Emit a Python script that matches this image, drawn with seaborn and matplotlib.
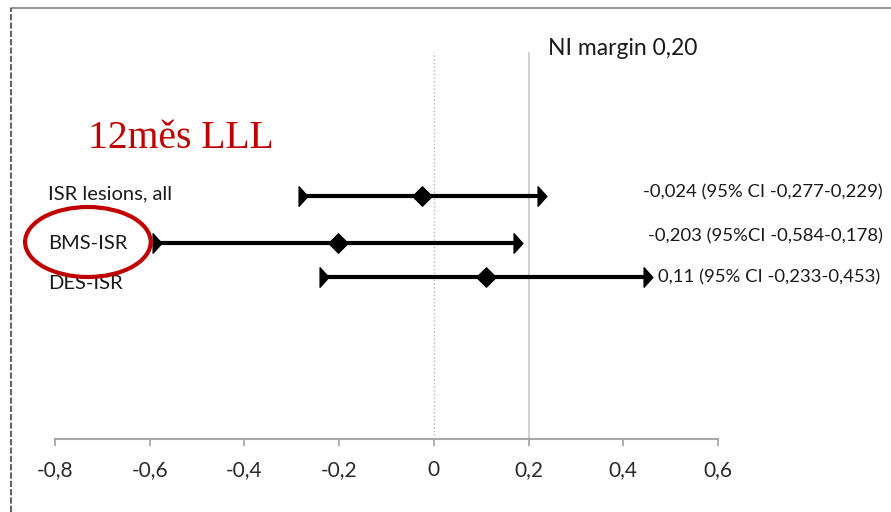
import matplotlib
matplotlib.use("Agg")
import matplotlib.pyplot as plt
from matplotlib.patches import Ellipse
from matplotlib.path import Path
from matplotlib.lines import Line2D
import seaborn as sns
import pandas as pd

# ---- data ----
categories = ["ISR lesions, all", "BMS-ISR", "DES-ISR"]
estimates = [-0.024, -0.203, 0.11]
ci_low = [-0.277, -0.584, -0.233]
ci_high = [0.229, 0.178, 0.453]
annotations = ["-0,024 (95% CI -0,277-0,229)",
               "-0,203 (95%CI -0,584-0,178)",
               "0,11 (95% CI -0,233-0,453)"]
tick_values = [-0.8, -0.6, -0.4, -0.2, 0, 0.2, 0.4, 0.6]
tick_labels = ["-0,8", "-0,6", "-0,4", "-0,2", "0", "0,2", "0,4", "0,6"]
ni_margin = 0.2
ni_label = "NI margin 0,20"
title_text = "12měs LLL"

# layout (vertical positions in pixel-like units, top = 8, axis = 439)
row_y = [196, 243, 277]
label_y = [194, 243, 283]
annot_y = [192, 236, 277]
annot_x = [0.442, 0.452, 0.473]

sns.set_style("white")
plt.rcParams['font.family'] = ['Lato', 'DejaVu Sans']

df = pd.DataFrame({"cat": categories, "est": estimates, "lo": ci_low,
                   "hi": ci_high, "y": row_y})

fig = plt.figure(figsize=(8.91, 5.12), dpi=100)
ax = fig.add_axes([55/891, 73/512, 663/891, 431/512])
ax.set_xlim(-0.8, 0.6)
ax.set_ylim(439, 8)

for s in ["left", "top", "right"]:
    ax.spines[s].set_visible(False)
ax.spines["bottom"].set_color("#A8A8A8")
ax.spines["bottom"].set_linewidth(1.5)
ax.set_yticks([])
ax.set_xticks(tick_values)
ax.set_xticklabels(tick_labels, fontsize=15, color="#2a2a2a")
ax.tick_params(axis="x", direction="out", length=5, width=1.3,
               color="#A8A8A8", pad=10, bottom=True)

# reference lines
ax.vlines(0, 439, 52, colors="#B8B8B8", linestyles=":", linewidth=1)
ax.vlines(ni_margin, 439, 52, colors="#C8C8C8", linestyles="-", linewidth=1.2)
ax.text(0.242, 48, ni_label, fontsize=16.5, color="#1a1a1a", va="center", ha="left")

# CI lines
ax.hlines(df["y"], df["lo"], df["hi"], colors="black", linewidth=3, zorder=3)
tri = Path([(-0.45, 1.0), (0.45, 0.0), (-0.45, -1.0), (-0.45, 1.0)],
           [Path.MOVETO, Path.LINETO, Path.LINETO, Path.CLOSEPOLY])
ax.plot(df["lo"], df["y"], linestyle="none", marker=tri, markersize=14,
        color="black", zorder=4, clip_on=False)
ax.plot(df["hi"], df["y"], linestyle="none", marker=tri, markersize=14,
        color="black", zorder=4, clip_on=False)
sns.scatterplot(data=df, x="est", y="y", marker="D", s=100, color="black",
                edgecolor="black", zorder=5, ax=ax, legend=False, clip_on=False)
ax.set_xlabel("")
ax.set_ylabel("")
ax.set_ylim(439, 8)

for lab, yy in zip(categories, label_y):
    ax.text(-0.8147, yy, lab, fontsize=14.5, color="#1a1a1a", va="center",
            ha="left", clip_on=False)
for txt, xx, yy in zip(annotations, annot_x, annot_y):
    ax.text(xx, yy, txt, fontsize=13.3, color="#1a1a1a", va="center",
            ha="left", clip_on=False)

# title-like red text and ellipse
ax.text((85 - 432) / 475, 138, title_text, fontsize=28.5, color="#C00000",
        family=["Liberation Serif", "DejaVu Serif"], va="center", ha="left",
        clip_on=False)
ell = Ellipse(((85 - 432) / 475, 242), 126 / 475, 70, fill=False,
              edgecolor="#C00000", linewidth=3, clip_on=False, zorder=6)
ax.add_patch(ell)

# slide borders
fig.add_artist(Line2D([11/891, 1], [504/512, 504/512], color="#999999",
                      linewidth=1.5, transform=fig.transFigure))
fig.add_artist(Line2D([11/891, 11/891], [0, 504/512], color="#666666",
                      linewidth=1.5, linestyle=(0, (3, 1)),
                      transform=fig.transFigure))

fig.savefig("out.png", dpi=100)
